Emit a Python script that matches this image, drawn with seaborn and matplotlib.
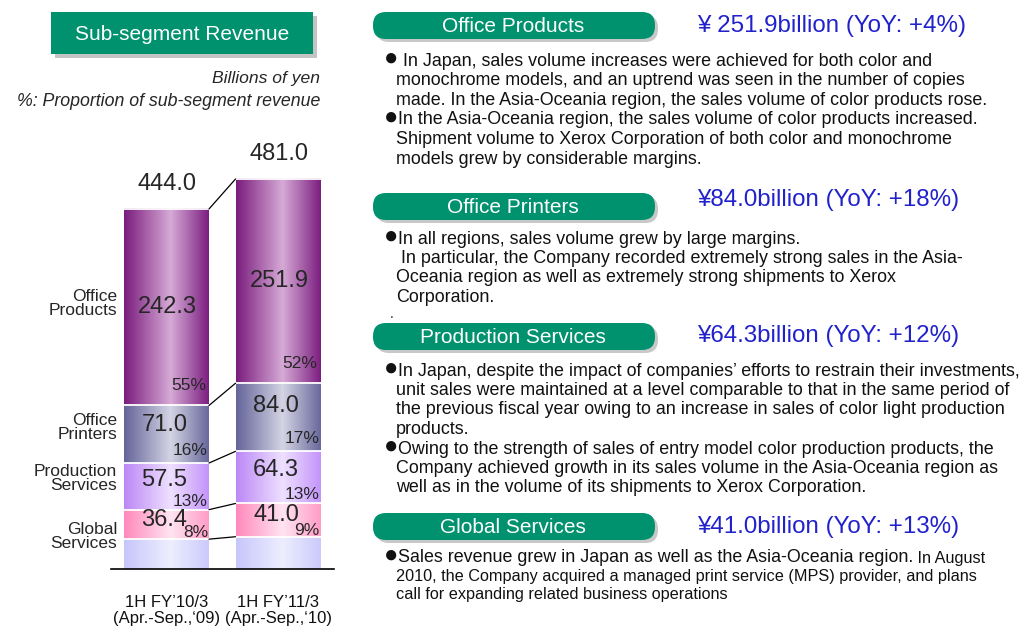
import numpy as np
import pandas as pd
import matplotlib
matplotlib.use("Agg")
import matplotlib.pyplot as plt
from matplotlib.colors import LinearSegmentedColormap
from matplotlib.patches import Rectangle, FancyBboxPatch
import seaborn as sns

# data (billions of yen)
periods = ["1H FY\u201910/3\n(Apr.-Sep.,\u201809)", "1H FY\u201911/3\n(Apr.-Sep.,\u201810)"]
office_products = [242.3, 251.9]
office_printers = [71.0, 84.0]
production_services = [57.5, 64.3]
global_services = [36.4, 41.0]
other = [36.8, 39.8]
totals = [444.0, 481.0]

share_office_products = ["55%", "52%"]
share_office_printers = ["16%", "17%"]
share_production_services = ["13%", "13%"]
share_global_services = ["8%", "9%"]

segment_names = ["Office\nProducts", "Office\nPrinters", "Production\nServices", "Global\nServices"]

header_titles = ["Office Products", "Office Printers", "Production Services", "Global Services"]
header_values = ["\u00a5 251.9billion (YoY: +4%)", "\u00a584.0billion (YoY: +18%)",
                 "\u00a564.3billion (YoY: +12%)", "\u00a541.0billion (YoY: +13%)"]

notes_office_products = [
    "\u25cf In Japan, sales volume increases were achieved for both color and",
    "monochrome models, and an uptrend was seen in the number of copies",
    "made. In the Asia-Oceania region, the sales volume of color products rose.",
    "\u25cfIn the Asia-Oceania region, the sales volume of color products increased.",
    "Shipment volume to Xerox Corporation of both color and monochrome",
    "models grew by considerable margins.",
]
notes_office_printers = [
    "\u25cfIn all regions, sales volume grew by large margins.",
    " In particular, the Company recorded extremely strong sales in the Asia-",
    "Oceania region as well as extremely strong shipments to Xerox",
    "Corporation.",
]
notes_production_services = [
    "\u25cfIn Japan, despite the impact of companies\u2019 efforts to restrain their investments,",
    "unit sales were maintained at a level comparable to that in the same period of",
    "the previous fiscal year owing to an increase in sales of color light production",
    "products.",
    "\u25cfOwing to the strength of sales of entry model color production products, the",
    "Company achieved growth in its sales volume in the Asia-Oceania region as",
    "well as in the volume of its shipments to Xerox Corporation.",
]
notes_global_services = [
    "\u25cfSales revenue grew in Japan as well as the Asia-Oceania region.",
    "2010, the Company acquired a managed print service (MPS) provider, and plans",
    "call for expanding related business operations",
]
notes_global_extra = " In August"

W, H = 1022, 626
GREEN = "#00916E"
BLUE = "#2222CC"
BODY = 12.9
SMALL = 11.7
BULLET = "\u25cf"

df = pd.DataFrame({
    "period": periods,
    "Other": other,
    "Global Services": global_services,
    "Production Services": production_services,
    "Office Printers": office_printers,
    "Office Products": office_products,
})
layers = ["Other", "Global Services", "Production Services", "Office Printers", "Office Products"]
tops = df[layers].cumsum(axis=1)
tops["period"] = df["period"]

gradients = {
    "Office Products": ["#7A1C7E", "#D6AAD6", "#7C1E80"],
    "Office Printers": ["#64649A", "#D4D4E4", "#68689C"],
    "Production Services": ["#BC88F6", "#EEE0FF", "#C494FA"],
    "Global Services": ["#FF88BC", "#FFE4F0", "#FF9CC8"],
    "Other": ["#C6C6FC", "#EEEEFF", "#CACAFC"],
}


def main():
    sns.set_theme(style="white")
    plt.rcParams["font.family"] = ["Liberation Sans", "DejaVu Sans"]

    fig = plt.figure(figsize=(W / 100, H / 100), dpi=100)
    fig.patch.set_facecolor("white")

    # background layer in pixel coordinates (y down)
    bg = fig.add_axes([0, 0, 1, 1], zorder=0)
    bg.set_xlim(0, W)
    bg.set_ylim(H, 0)
    bg.axis("off")

    # title box
    bg.add_patch(Rectangle((55, 16), 262, 42, color="#C4C4C4", lw=0))
    bg.add_patch(Rectangle((51, 12), 262, 42, color=GREEN, lw=0))
    bg.text(182, 34, "Sub-segment Revenue", color="white", fontsize=15, ha="center", va="center")
    bg.text(320, 79, "Billions of yen", fontsize=12.6, style="italic", ha="right", va="center")
    bg.text(320, 102, "%: Proportion of sub-segment revenue", fontsize=12.8, style="italic",
            ha="right", va="center")

    # right hand sections
    sections = [
        (12, 26, notes_office_products, 61, 19.6),
        (193, 200, notes_office_printers, 239, 19.4),
        (323, 336, notes_production_services, 371, 19.5),
        (513, 527, notes_global_services, 558, 18.5),
    ]
    first_global = None
    for k, (ytop, yval, lines, y0, step) in enumerate(sections):
        bg.add_patch(FancyBboxPatch((376, ytop + 3), 282, 27, boxstyle="round,pad=0,rounding_size=13",
                                    color="#C8C8C8", lw=0))
        bg.add_patch(FancyBboxPatch((373, ytop), 282, 27, boxstyle="round,pad=0,rounding_size=13",
                                    color=GREEN, lw=0))
        bg.text(513, ytop + 14.5, header_titles[k], color="white", fontsize=15, ha="center", va="center")
        bg.text(697, yval, header_values[k], color=BLUE, fontsize=17.4, ha="left", va="center")
        for i, line in enumerate(lines):
            y = y0 + i * step
            x = 396
            if line.startswith(BULLET):
                bg.text(384, y - 2, BULLET, fontsize=17, ha="left", va="center", color="#111111")
                line = line[1:]
                x = 397.5
            size = BODY
            if k == 3 and i > 0:
                size = SMALL
            t = bg.text(x, y, line, fontsize=size, ha="left", va="center", color="#111111")
            if k == 3 and i == 0:
                first_global = t
    bg.annotate(notes_global_extra, xy=(1, 0.5), xycoords=first_global, ha="left", va="center",
                fontsize=SMALL, color="#111111")
    bg.text(390, 314, ".", fontsize=10, ha="left", va="center")

    # chart axes: baseline at y=569 px, 0.8108 px per billion
    scale = 360 / 444.0
    ymax = 520
    ax = fig.add_axes([111 / W, (H - 569) / H, 223 / W, ymax * scale / H], zorder=1)
    ax.set_facecolor("none")

    bar_w = 85 / 111.5
    patches = {}
    for layer in reversed(layers):
        n0 = len(ax.patches)
        sns.barplot(data=tops, x="period", y=layer, order=periods, color="white", width=bar_w,
                    saturation=1, errorbar=None, linewidth=0, ax=ax)
        patches[layer] = ax.patches[n0:]

    # gradient fill of every segment
    grad = np.linspace(0, 1, 256).reshape(1, -1)
    bottoms = [0.0, 0.0]
    seg_geom = {}
    for layer in layers:
        cmap = LinearSegmentedColormap.from_list(layer, list(zip([0, 0.55, 1], gradients[layer])))
        geom = []
        for j, p in enumerate(patches[layer]):
            x0, w, top = p.get_x(), p.get_width(), p.get_height()
            ax.imshow(grad, cmap=cmap, extent=(x0, x0 + w, bottoms[j], top), aspect="auto",
                      interpolation="bilinear", zorder=2)
            ax.hlines(top, x0, x0 + w, color="white", lw=1.3, zorder=3)
            geom.append((x0, w, bottoms[j], top))
            bottoms[j] = top
        seg_geom[layer] = geom

    # connector lines between the bars
    for layer in layers:
        (x0a, wa, _, ta), (x0b, _, _, tb) = seg_geom[layer]
        ax.plot([x0a + wa, x0b], [ta, tb], color="black", lw=0.9, zorder=3)

    # totals on top
    for j, total in enumerate(totals):
        ax.annotate(f"{total:.1f}", (j, total), xytext=(1, 25), textcoords="offset pixels",
                    ha="center", va="center", fontsize=17)

    named = ["Office Products", "Office Printers", "Production Services", "Global Services"]
    values = [office_products, office_printers, production_services, global_services]
    shares = [share_office_products, share_office_printers, share_production_services, share_global_services]
    label_frac = [0.5, 0.66, 0.64, 0.64]
    pct_dy = [15, 8, 4, 2]
    pct_dx = [-3, -1, -1, -1]
    name_dy = [4, 7, 8, -12]
    for k, layer in enumerate(named):
        for j, (x0, w, b, t) in enumerate(seg_geom[layer]):
            ax.annotate(f"{values[k][j]:.1f}", (x0 + w / 2, b + label_frac[k] * (t - b)),
                        xytext=(-2 if k else 1, 0), textcoords="offset pixels",
                        ha="center", va="center", fontsize=17, zorder=4)
            ax.annotate(shares[k][j], (x0 + w, b), xytext=(pct_dx[k], pct_dy[k]),
                        textcoords="offset pixels", ha="right", va="baseline", fontsize=12.5, zorder=4)
        x0, w, b, t = seg_geom[layer][0]
        ax.annotate(segment_names[k], (x0, (b + t) / 2), xytext=(-7, name_dy[k]),
                    textcoords="offset pixels", ha="right", va="center", fontsize=12.5,
                    linespacing=0.95, annotation_clip=False)

    ax.set_xlim(-(166.5 - 111) / 111.5, 1 + (334 - 278) / 111.5)
    ax.set_ylim(0, ymax)
    ax.set_xlabel("")
    ax.set_ylabel("")
    ax.set_yticks([])
    sns.despine(ax=ax, left=True)
    ax.spines["bottom"].set_color("black")
    ax.spines["bottom"].set_linewidth(1.2)
    ax.tick_params(axis="x", length=0, pad=19, labelsize=12, colors="#111111")
    for t in ax.get_xticklabels():
        t.set_linespacing(1.05)

    fig.savefig("out.png", dpi=100)
    plt.close(fig)


if __name__ == "__main__":
    main()
